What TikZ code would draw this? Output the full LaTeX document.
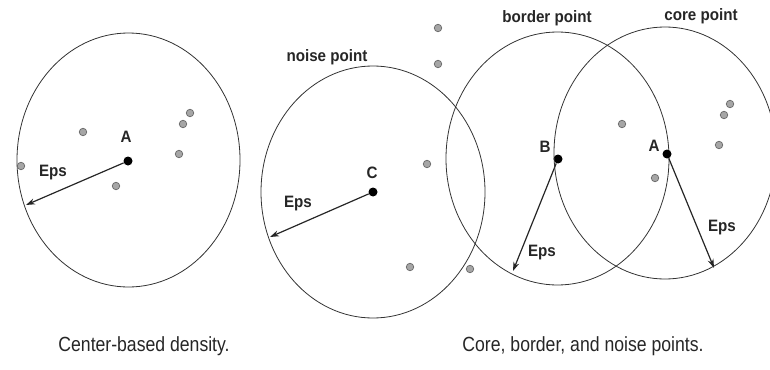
\documentclass[tikz,border=0pt]{standalone}
\usepackage{fontspec}
\setmainfont{Liberation Sans}
\newfontfamily\capfont[FakeStretch=0.86]{Liberation Sans}
\newfontfamily\lblfont[FakeStretch=0.92]{Liberation Sans}
\usetikzlibrary{arrows.meta}
\begin{document}
\begin{tikzpicture}[x=1pt,y=-1pt,
  region/.style={draw=black!80,line width=0.8pt},
  graydot/.style={circle,draw=black!60,fill=black!35,line width=0.7pt,inner sep=0pt,minimum size=7.5pt},
  blackdot/.style={circle,fill=black,inner sep=0pt,minimum size=9pt},
  lbl/.style={font=\lblfont\fontsize{16.5}{18}\selectfont\bfseries,text=black!85,inner sep=0pt},
  captext/.style={font=\capfont\fontsize{20.5}{22}\selectfont,text=black!85,inner sep=0pt},
  epsarrow/.style={-{Stealth[length=9pt,width=6pt]},line width=1.2pt,black!85}]
\useasboundingbox (0,0) rectangle (770,369);
% ---------- left: center-based density
\draw[region] (128.5,160) ellipse [x radius=111.5pt, y radius=127pt];
\node[blackdot] (A1) at (128,161) {};
\node[lbl] (A1l) at (126,137) {A};
\coordinate (A1e) at (26,205);
\draw[epsarrow] (A1) -- (A1e);
\node[lbl] (A1eps) at (53,173) {Eps};
\node[graydot] (g1) at (83,132) {};
\node[graydot] (g2) at (116,186) {};
\node[graydot] (g3) at (21,166) {};
\node[graydot] (g4) at (190,113) {};
\node[graydot] (g5) at (183,124) {};
\node[graydot] (g6) at (179,154) {};
% ---------- right: noise circle
\draw[region] (373,192) ellipse [x radius=112pt, y radius=126pt];
\node[blackdot] (C) at (373,192) {};
\node[lbl] (Cl) at (372,173) {C};
\coordinate (Ce) at (270,237);
\draw[epsarrow] (C) -- (Ce);
\node[lbl] (Ceps) at (298,204) {Eps};
\node[lbl] (noise) at (327,57) {noise point};
% border circle
\draw[region] (557.5,158.5) ellipse [x radius=111.5pt, y radius=126.5pt];
\node[blackdot] (B) at (558,159) {};
\node[lbl] (Bl) at (545,147) {B};
\coordinate (Be) at (513,271);
\draw[epsarrow] (B) -- (Be);
\node[lbl] (Beps) at (542,253) {Eps};
\node[lbl] (border) at (547,18) {border point};
% core circle
\draw[region] (665,153) ellipse [x radius=111pt, y radius=126pt];
\node[blackdot] (A2) at (667,154) {};
\node[lbl] (A2l) at (654,146) {A};
\coordinate (A2e) at (714,268);
\draw[epsarrow] (A2) -- (A2e);
\node[lbl] (A2eps) at (722,228) {Eps};
\node[lbl] (core) at (701,16) {core point};
% gray points right side
\node[graydot] (h1) at (438,28) {};
\node[graydot] (h2) at (438,64) {};
\node[graydot] (h3) at (427,164) {};
\node[graydot] (h4) at (410,267) {};
\node[graydot] (h5) at (470,269) {};
\node[graydot] (h6) at (622,124) {};
\node[graydot] (h7) at (655,178) {};
\node[graydot] (h8) at (730,104) {};
\node[graydot] (h9) at (724,115) {};
\node[graydot] (h10) at (719,145) {};
% captions
\node[captext] (cap1) at (144,346) {Center-based density.};
\node[captext] (cap2) at (583,346) {Core, border, and noise points.};
\end{tikzpicture}
\end{document}
